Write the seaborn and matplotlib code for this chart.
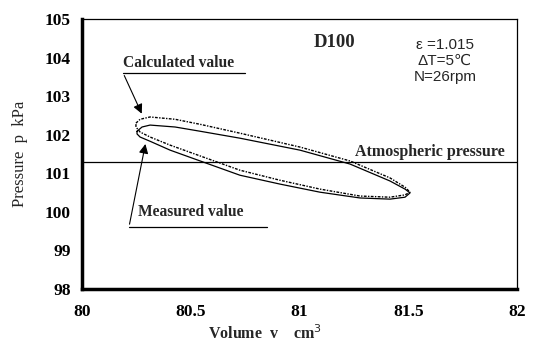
import numpy as np
import pandas as pd
import seaborn as sns
import matplotlib.pyplot as plt

# Calculated p-V loop (dotted)
calc_v = [80.248, 80.267, 80.313, 80.428, 80.543, 80.726, 81.002, 81.232, 81.416, 81.485, 81.508,
          81.485, 81.416, 81.278, 81.094, 80.910, 80.726, 80.543, 80.405, 80.313, 80.267, 80.248, 80.248]
calc_p = [102.30, 102.40, 102.46, 102.40, 102.27, 102.04, 101.68, 101.32, 100.88, 100.64, 100.51,
          100.44, 100.38, 100.41, 100.59, 100.82, 101.08, 101.45, 101.73, 101.94, 102.07, 102.20, 102.30]

# Measured p-V loop (solid)
meas_v = [80.253, 80.276, 80.313, 80.428, 80.543, 80.726, 81.002, 81.232, 81.416, 81.485, 81.508,
          81.485, 81.416, 81.278, 81.094, 80.910, 80.726, 80.543, 80.405, 80.313, 80.267, 80.253, 80.253]
meas_p = [102.09, 102.20, 102.25, 102.20, 102.09, 101.91, 101.60, 101.24, 100.80, 100.59, 100.49,
          100.38, 100.33, 100.36, 100.51, 100.72, 100.95, 101.32, 101.60, 101.83, 101.94, 102.02, 102.09]

p_atm = 101.3
x_ticks = [80, 80.5, 81, 81.5, 82]
x_ticklabels = ['80', '80.5', '81', '81.5', '82']
y_ticks = [98, 99, 100, 101, 102, 103, 104, 105]

sns.set_style('white')
plt.rcParams['font.family'] = ['Liberation Serif', 'DejaVu Serif']

fig = plt.figure(figsize=(5.37, 3.52), dpi=100)
ax = fig.add_axes([0.1527, 0.179, 0.8101, 0.767])

calc = pd.DataFrame({'v': calc_v, 'p': calc_p})
meas = pd.DataFrame({'v': meas_v, 'p': meas_p})
sns.lineplot(data=calc, x='v', y='p', sort=False, estimator=None, color='black',
             lw=1.0, linestyle=(0, (2, 1, 1, 1)), ax=ax)
sns.lineplot(data=meas, x='v', y='p', sort=False, estimator=None, color='black',
             lw=0.9, ax=ax)
ax.axhline(p_atm, color='black', lw=0.9)

ax.set_xlim(80, 82)
ax.set_ylim(98, 105)
ax.set_xticks(x_ticks)
ax.set_xticklabels(x_ticklabels)
ax.set_yticks(y_ticks)
ax.tick_params(direction='in', length=5, width=2, colors='black', labelsize=12.5, pad=11)
ax.tick_params(axis='y', pad=8)
for lbl in ax.get_xticklabels() + ax.get_yticklabels():
    lbl.set_fontweight('bold')

for side in ['left', 'bottom']:
    ax.spines[side].set_linewidth(2.5)
    ax.spines[side].set_color('black')
for side in ['top', 'right']:
    ax.spines[side].set_linewidth(0.9)
    ax.spines[side].set_color('black')

ax.set_xlabel('Volume  v    cm$^3$', fontsize=11.5, fontweight='bold')
ax.xaxis.set_label_coords(0.42, -0.13)
ax.set_ylabel('Pressure  p  kPa', fontsize=12, labelpad=12)

ax.text(81.163, 104.40, 'D100', fontsize=13.5, fontweight='bold', ha='center', va='center')
sans = ['Liberation Sans', 'DejaVu Sans']
ax.text(81.669, 104.32, '\u03b5 =1.015', fontsize=11, ha='center', va='center', family=sans)
ax.text(81.669, 103.91, '\u0394T=5\u2103', fontsize=11, ha='center', va='center', family=sans)
ax.text(81.669, 103.49, 'N=26rpm', fontsize=11, ha='center', va='center', family=sans)

ax.text(81.60, 101.55, 'Atmospheric pressure', fontsize=11.5, fontweight='bold',
        ha='center', va='center')

# Calculated value label with leader
ax.text(80.445, 103.85, 'Calculated value', fontsize=11.2, fontweight='bold', ha='center', va='center')
ax.plot([80.189, 80.749], [103.60, 103.60], color='black', lw=0.9)
ax.annotate('', xy=(80.280, 102.48), xytext=(80.189, 103.60),
            arrowprops=dict(arrowstyle='-|>', color='black', lw=0.8, mutation_scale=14))

# Measured value label with leader
ax.text(80.50, 100.0, 'Measured value', fontsize=11.2, fontweight='bold', ha='center', va='center')
ax.plot([80.216, 80.850], [99.61, 99.61], color='black', lw=0.9)
ax.annotate('', xy=(80.294, 101.83), xytext=(80.216, 99.61),
            arrowprops=dict(arrowstyle='-|>', color='black', lw=0.8, mutation_scale=14))

fig.savefig('out.png', dpi=100)
